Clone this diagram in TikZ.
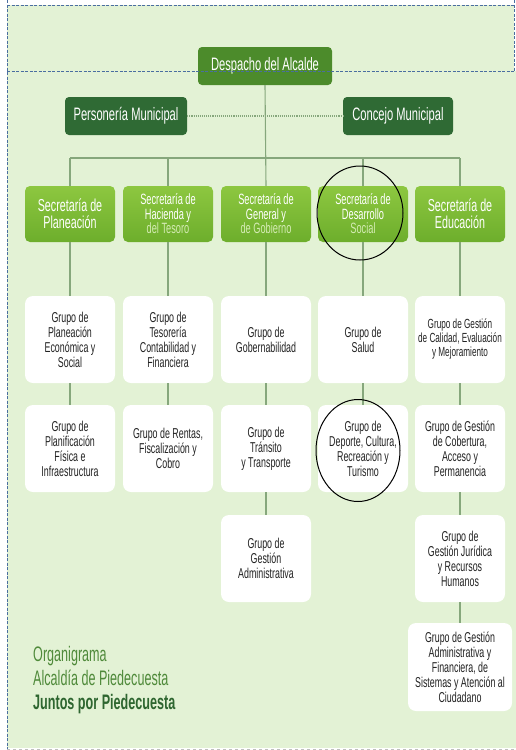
\documentclass[tikz,border=0pt]{standalone}
\usepackage{fontspec}
\setmainfont{Liberation Sans}[FakeStretch=0.62]
\newfontfamily\capfont{Liberation Sans}[FakeStretch=0.6]
\usetikzlibrary{calc}
\definecolor{bgfill}{HTML}{E3F2D5}
\definecolor{frameblue}{HTML}{4A6EA0}
\definecolor{mayor}{HTML}{4C8B2B}
\definecolor{council}{HTML}{2F6A34}
\definecolor{sectop}{HTML}{8DC740}
\definecolor{secbot}{HTML}{6DAE2C}
\definecolor{wire}{HTML}{86A77C}
\definecolor{fadetxt}{HTML}{D4EBB4}
\definecolor{grptxt}{HTML}{222222}
\definecolor{titlegreen}{HTML}{4F8A3A}
\definecolor{titledark}{HTML}{2E6630}
\tikzset{
  px/.style={x=1pt,y=-1pt},
  topbox/.style={rounded corners=4pt, minimum height=38pt, text=white,
    font=\fontsize{18}{20}\selectfont, inner sep=0pt},
  secbox/.style={rounded corners=5pt, minimum width=90pt, minimum height=56pt,
    top color=sectop, bottom color=secbot, text=white, align=center, inner sep=0pt},
  sectwo/.style={secbox, font=\fontsize{17.3}{17}\selectfont},
  secthree/.style={secbox, font=\fontsize{14.9}{14.5}\selectfont},
  grpbox/.style={rounded corners=8pt, fill=white, minimum width=90pt,
    minimum height=87pt, align=center, inner sep=0pt, text=grptxt,
    font=\fontsize{14.3}{15}\selectfont},
  link/.style={draw=wire, line width=1.1pt},
  mark ring/.style={draw=black, line width=1pt},
  frame/.style={draw=frameblue, dashed, dash pattern=on 3pt off 1.5pt, line width=1pt}
}
\begin{document}
\begin{tikzpicture}[px]
\useasboundingbox (0,0) rectangle (516,750);
% background panels
\fill[white] (0,0) rectangle (516,750);
\fill[bgfill] (7,5) rectangle (514,71);
\fill[bgfill] (7,71) rectangle (516,748);
% top tier
\node[topbox, fill=mayor, minimum width=134pt] (alc) at (265,66) {Despacho del Alcalde};
\node[topbox, fill=council, minimum width=122pt] (per) at (126,116) {Personería Municipal};
\node[topbox, fill=council, minimum width=110pt] (con) at (398,116) {Concejo Municipal};
% secretariats
\node[sectwo]   (s1) at (70,214)  {Secretaría de\\Planeación};
\node[secthree] (s2) at (168,214) {Secretaría de\\Hacienda y\\\textcolor{fadetxt}{del Tesoro}};
\node[secthree] (s3) at (266,214) {Secretaría de\\General y\\\textcolor{fadetxt}{de Gobierno}};
\node[secthree] (s4) at (363,214) {Secretaría de\\Desarrollo\\\textcolor{fadetxt}{Social}};
\node[sectwo]   (s5) at (460,214) {Secretaría de\\Educación};
% groups, first row
\node[grpbox] (g11) at (70,339.5)  {Grupo de\\Planeación\\Económica y\\Social};
\node[grpbox] (g21) at (168,339.5) {Grupo de\\Tesorería\\Contabilidad y\\Financiera};
\node[grpbox] (g31) at (266,339.5) {Grupo de\\Gobernabilidad};
\node[grpbox] (g41) at (363,339.5) {Grupo de\\Salud};
\node[grpbox, font=\fontsize{13.2}{14}\selectfont] (g51) at (460,339.5)
  {Grupo de Gestión\\de Calidad, Evaluación\\y Mejoramiento};
% groups, second row
\node[grpbox] (g12) at (70,448.5)  {Grupo de\\Planificación\\Física e\\Infraestructura};
\node[grpbox] (g22) at (168,448.5) {Grupo de Rentas,\\Fiscalización y\\Cobro};
\node[grpbox] (g32) at (266,448.5) {Grupo de\\Tránsito\\y Transporte};
\node[grpbox] (g42) at (363,448.5) {Grupo de\\Deporte, Cultura,\\Recreación y\\Turismo};
\node[grpbox] (g52) at (460,448.5) {Grupo de Gestión\\de Cobertura,\\Acceso y\\Permanencia};
% groups, lower rows
\node[grpbox] (g33) at (266,558.5) {Grupo de\\Gestión\\Administrativa};
\node[grpbox] (g53) at (460,558.5) {Grupo de\\Gestión Jurídica\\y Recursos\\Humanos};
\node[grpbox, minimum width=104pt, minimum height=88pt] (g54) at (460,667)
  {Grupo de Gestión\\Administrativa y\\Financiera, de\\Sistemas y Atención al\\Ciudadano};
% connectors
\coordinate (busL) at (s1.north |- 0,158);
\coordinate (busR) at (s5.north |- 0,158);
\draw[link, densely dotted] (per.east) -- (con.west);
\draw[link] (busL) -- (busR);
\draw[link] (alc.south) -- (s3.north);
\foreach \s in {s1,s2,s4,s5} \draw[link] (\s.north |- busL) -- (\s.north);
\foreach \a/\b in {s1/g11,s2/g21,s3/g31,s4/g41,s5/g51,
                   g11/g12,g21/g22,g31/g32,g41/g42,g51/g52,
                   g32/g33,g52/g53,g53/g54}
  \draw[link] (\a.south) -- (\b.north);
% highlight rings
\draw[mark ring] (s4.center) ++(-3,-1) ellipse [x radius=43pt, y radius=47pt];
\draw[mark ring] (g42.center) ++(-5,2) ellipse [x radius=42pt, y radius=51pt];
% caption
\node[anchor=north west, align=left, inner sep=0pt, text=titlegreen,
  font=\capfont\fontsize{21}{24}\selectfont] (cap) at (33,646)
  {Organigrama\\Alcaldía de Piedecuesta\\\textcolor{titledark}{\bfseries Juntos por Piedecuesta}};
% dashed frame
\draw[frame] (7,0) -- (7,750);
\draw[frame] (7,5) -- (514,5);
\draw[frame] (7,71) -- (514,71);
\draw[frame] (514,0) -- (514,71);
\draw[draw=gray!50, dashed, line width=0.6pt] (7,749) -- (516,749);
\end{tikzpicture}
\end{document}
